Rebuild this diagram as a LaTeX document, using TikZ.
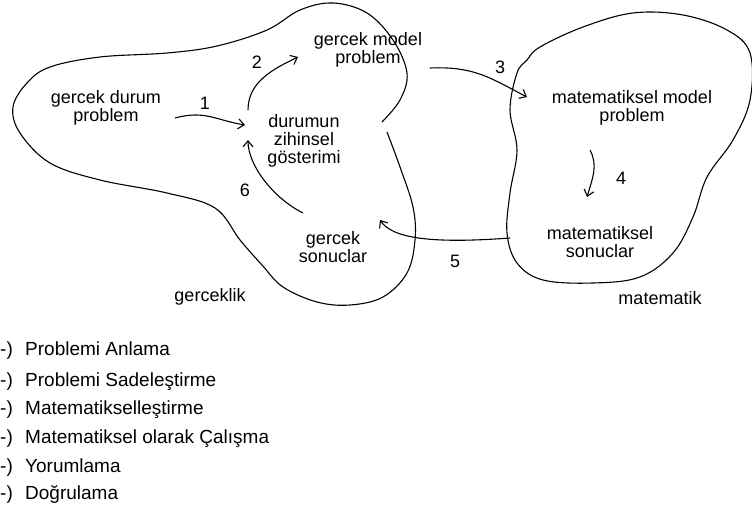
\documentclass[tikz,border=0pt]{standalone}
\usepackage{fontspec}
\setmainfont{Liberation Sans}
\usetikzlibrary{arrows.meta}
\begin{document}
\begin{tikzpicture}[x=1pt,y=-1pt,
  lbl/.style={font=\fontsize{18}{18}\selectfont, align=center, inner sep=1pt},
  num/.style={font=\fontsize{18}{18}\selectfont, inner sep=1pt},
  item/.style={font=\fontsize{19}{19}\selectfont, anchor=base west, inner sep=0pt},
  blob/.style={line width=1.1pt},
  arr/.style={line width=1.1pt, -{Straight Barb[length=6pt,width=10pt]}}]
\useasboundingbox (0,0) rectangle (752,513);

% blobs
\draw[blob] plot[smooth, tension=0.6] coordinates {
  (387,132) (400,167) (413,207) (415,240) (407,273) (383,297) (350,305)
  (317,302) (283,287) (262,265) (240,240) (215,208) (167,193) (100,180)
  (50,163) (20,133) (13,107) (27,83) (50,67) (100,57) (167,53) (217,46)
  (267,30) (300,10) (333,3) (367,13) (393,40) (407,73) (400,100) (382,122)};
\draw[blob] plot[smooth cycle, tension=0.6] coordinates {
  (540,47) (583,27) (633,13) (683,15) (727,30) (750,53) (750,100)
  (733,140) (707,177) (693,217) (673,253) (640,277) (593,283) (543,280)
  (517,263) (507,233) (510,193) (517,150) (510,110) (517,73) (527,60)};

% nodes
\node[lbl] (gdp) at (106,108) {gercek durum\\problem};
\node[lbl] (zg) at (304,141) {durumun\\zihinsel\\gösterimi};
\node[lbl] (gmp) at (368,50) {gercek model\\problem};
\node[lbl] (mmp) at (632,108) {matematiksel model\\problem};
\node[lbl] (ms) at (600,242) {matematiksel\\sonuclar};
\node[lbl] (gs) at (333,247) {gercek\\sonuclar};
\node[lbl] (gk) at (210,297) {gerceklik};
\node[lbl] (mt) at (660,298) {matematik};

% arrows
\draw[arr] ([shift={(69,10)}]gdp.center) .. controls +(30,-8) and +(-30,-5) .. ([shift={(-59,-16)}]zg.center);
\draw[arr] ([shift={(-56,-31)}]zg.center) .. controls +(0,-28) and +(-25,12) .. ([shift={(-70,7)}]gmp.center);
\draw[arr] ([shift={(62,18)}]gmp.center) .. controls +(45,-2) and +(-35,-18) .. ([shift={(-105,-11)}]mmp.center);
\draw[arr] ([shift={(-42,42)}]mmp.center) .. controls +(8,15) and +(6,-20) .. ([shift={(-13,-45)}]ms.center);
\draw[arr] ([shift={(-90,-4)}]ms.center) .. controls +(-80,6) and +(12,18) .. ([shift={(47,-27)}]gs.center);
\draw[arr] ([shift={(-30,-34)}]gs.center) .. controls +(-30,-15) and +(0,25) .. ([shift={(-56,-1)}]zg.center);

% step numbers
\node[num] (n1) at (205,103) {1};
\node[num] (n2) at (257,62) {2};
\node[num] (n3) at (500,67) {3};
\node[num] (n4) at (621,178) {4};
\node[num] (n5) at (455,261) {5};
\node[num] (n6) at (245,190) {6};

% list
\node[item] (p1) at (0,355) {-)};
\node[item] (t1) at (25,355) {Problemi Anlama};
\node[item] (p2) at (0,386) {-)};
\node[item] (t2) at (25,386) {Problemi Sadeleştirme};
\node[item] (p3) at (0,414) {-)};
\node[item] (t3) at (25,414) {Matematikselleştirme};
\node[item] (p4) at (0,443) {-)};
\node[item] (t4) at (25,443) {Matematiksel olarak Çalışma};
\node[item] (p5) at (0,472) {-)};
\node[item] (t5) at (25,472) {Yorumlama};
\node[item] (p6) at (0,499) {-)};
\node[item] (t6) at (25,499) {Doğrulama};
\end{tikzpicture}
\end{document}
